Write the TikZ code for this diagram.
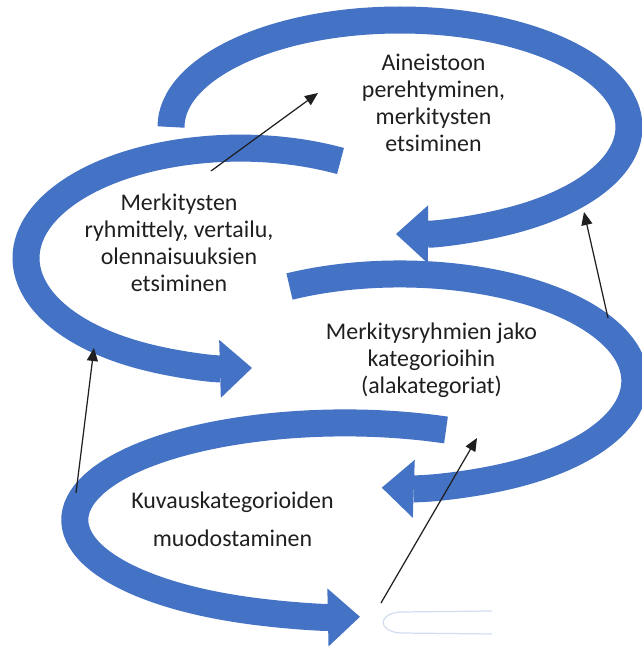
\documentclass[tikz,border=0pt]{standalone}
\usepackage{fontspec}
\setmainfont{Carlito}
\usetikzlibrary{arrows.meta}
\definecolor{spiral}{HTML}{4472C4}
\definecolor{ink}{HTML}{1F1F1F}
\definecolor{ghost}{HTML}{D3DDF1}
\tikzset{
  % ---- blue loops ------------------------------------------------
  swirl/.style      = {draw=spiral, line width=0.54cm,
                       -{Triangle[length=0.64cm, width=1.16cm, line width=0pt]}},
  faint/.style      = {draw=ghost, line width=.7pt},
  % ---- thin pointers ---------------------------------------------
  lead/.style       = {draw=ink, line width=.7pt,
                       -{Triangle[length=2.6mm, width=2.2mm]}},
  % ---- phase texts -----------------------------------------------
  phase/.style      = {font=\fontsize{13.6}{15.4}\selectfont, text=ink,
                       align=center, inner sep=0pt},
}

\begin{document}
\begin{tikzpicture}
\useasboundingbox (0,0) rectangle (12.84,12.92);
\coordinate (sw1) at (3.42, 10.38);
\coordinate (sw2) at (6.81, 9.70);
\coordinate (sw3) at (5.79, 7.19);
\coordinate (sw4) at (8.92, 4.32);
\draw[swirl] (sw1) arc[start angle=180, end angle=-91, x radius=4.58, y radius=2.14];
\draw[swirl] (sw2) arc[start angle=62, end angle=273.2, x radius=4.28, y radius=2.20];
\draw[swirl] (sw3) arc[start angle=118, end angle=-94.4, x radius=4.70, y radius=2.14];
\draw[swirl] (sw4) arc[start angle=68, end angle=273.2, x radius=5.40, y radius=1.94];
\draw[faint] (9.84, 0.70) -- (8.00, 0.68) .. controls (7.55, 0.64) and (7.55, 0.30) .. (8.00, 0.26) -- (9.84, 0.24);
\node[phase] (perehtyminen) at (8.67, 10.87) {Aineistoon\\perehtyminen,\\merkitysten\\etsiminen};
\node[phase] (ryhmittely) at (3.58, 8.06) {Merkitysten\\ryhmittely, vertailu,\\olennaisuuksien\\etsiminen};
\node[phase] (jako) at (8.63, 5.72) {Merkitysryhmien jako\\kategorioihin\\(alakategoriat)};
\node[phase] (kuvaus) at (4.65, 2.54) {Kuvauskategorioiden\\[6pt]muodostaminen};
\coordinate (p1a) at (4.22, 9.50);
\coordinate (p1b) at (6.36, 11.06);
\coordinate (p2a) at (12.16, 6.56);
\coordinate (p2b) at (11.68, 8.68);
\coordinate (p3a) at (1.52, 3.06);
\coordinate (p3b) at (1.88, 5.96);
\coordinate (p4a) at (7.62, 0.86);
\coordinate (p4b) at (9.54, 4.16);
\draw[lead] (p1a) -- (p1b);
\draw[lead] (p2a) -- (p2b);
\draw[lead] (p3a) -- (p3b);
\draw[lead] (p4a) -- (p4b);
\end{tikzpicture}
\end{document}
